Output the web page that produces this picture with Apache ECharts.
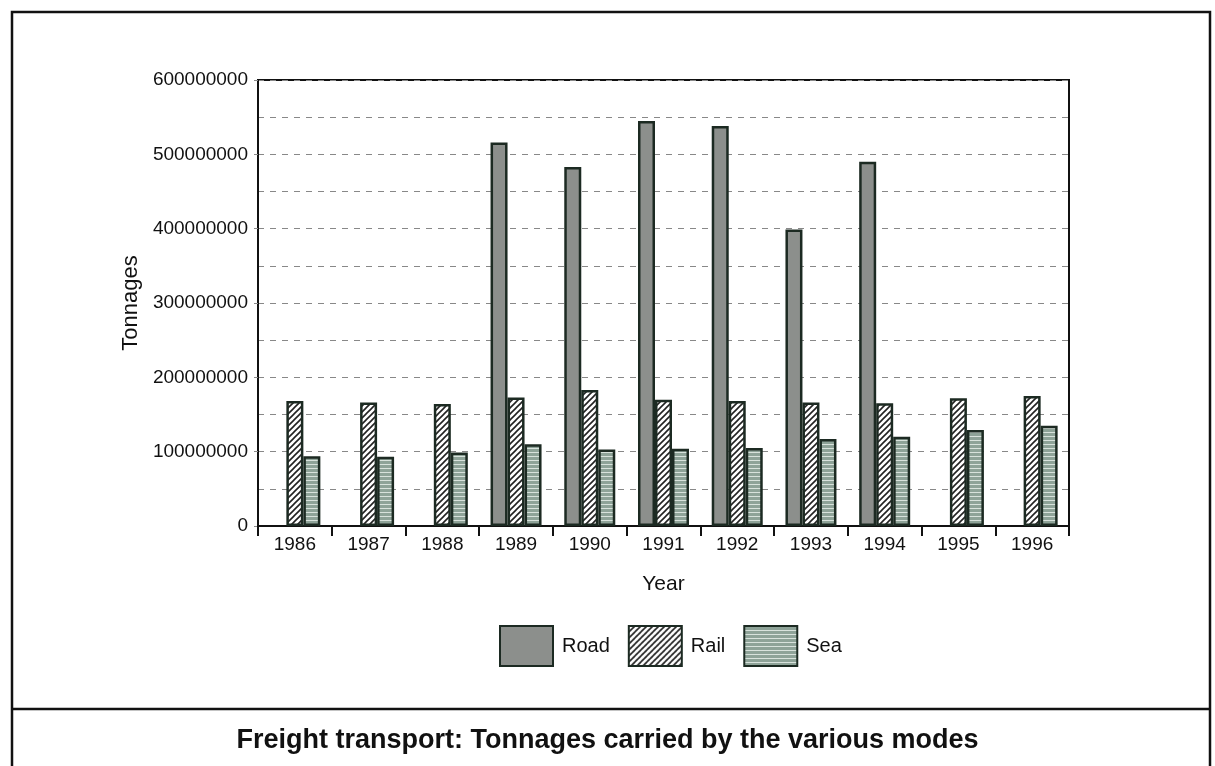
<!DOCTYPE html>
<html>
	<head>
		<meta charset="utf-8">
		<script src="https://cdn.jsdelivr.net/npm/echarts@6/dist/echarts.min.js"></script>
		<title>Freight transport</title>
		<style>
			body { margin: 0; background: #fff; }
		</style>
	</head>
	<body>
		<div id="main" style="width: 1215px;height:766px;"></div>
		<script type="text/javascript">
			// data
			var years = ['1986', '1987', '1988', '1989', '1990', '1991', '1992', '1993', '1994', '1995', '1996'];
			var road = [null, null, null, 516000000, 483000000, 545000000, 538000000, 399000000, 490000000, null, null];
			var rail = [168000000, 166000000, 164000000, 173000000, 183000000, 170000000, 168000000, 166000000, 165000000, 172000000, 175000000];
			var sea = [94000000, 93000000, 99000000, 110000000, 103000000, 104000000, 105000000, 117000000, 120000000, 129000000, 135000000];

			// fill patterns
			function hatch() {
				var c = document.createElement('canvas');
				c.width = 6; c.height = 6;
				var g = c.getContext('2d');
				g.fillStyle = '#fff';
				g.fillRect(0, 0, 6, 6);
				g.strokeStyle = '#222';
				g.lineWidth = 1.6;
				g.beginPath();
				g.moveTo(-1, 7); g.lineTo(7, -1);
				g.moveTo(-4, 4); g.lineTo(4, -4);
				g.moveTo(2, 10); g.lineTo(10, 2);
				g.stroke();
				return c;
			}
			function stripes() {
				var c = document.createElement('canvas');
				c.width = 4; c.height = 4;
				var g = c.getContext('2d');
				g.fillStyle = '#8ea398';
				g.fillRect(0, 0, 4, 4);
				g.fillStyle = '#d8e2dc';
				g.fillRect(0, 0, 4, 1);
				return c;
			}

			var myChart = echarts.init(document.getElementById('main'));
			var font = 'Liberation Sans, Arial, sans-serif';
			var border = { borderColor: '#1c2a22', borderWidth: 2.5 };

			myChart.setOption({
				backgroundColor: '#fff',
				animation: false,
				textStyle: { fontFamily: font, color: '#111' },
				title: {
					text: 'Freight transport: Tonnages carried by the various modes',
					left: 'center',
					top: 722,
					textStyle: { fontFamily: font, fontSize: 27, fontWeight: 'bold', color: '#111' }
				},
				graphic: [
					{ type: 'rect', shape: { x: 12, y: 12, width: 1198, height: 800 }, style: { fill: 'none', stroke: '#111', lineWidth: 2.5 }, silent: true },
					{ type: 'line', shape: { x1: 12, y1: 709, x2: 1210, y2: 709 }, style: { stroke: '#111', lineWidth: 2.5 }, silent: true }
				],
				legend: {
					left: 494,
					top: 620,
					icon: 'rect',
					itemWidth: 53,
					itemHeight: 40,
					itemGap: 18,
					textStyle: { fontFamily: font, fontSize: 20, color: '#111', padding: [0, 0, 0, 4] },
					data: ['Road', 'Rail', 'Sea']
				},
				grid: {
					left: 258, right: 146, top: 80, bottom: 240,
					show: true, borderColor: '#111', borderWidth: 2
				},
				xAxis: {
					type: 'category',
					data: years,
					name: 'Year',
					nameLocation: 'middle',
					nameGap: 48,
					nameTextStyle: { fontFamily: font, fontSize: 21, color: '#111' },
					axisLine: { lineStyle: { color: '#111', width: 2 } },
					axisTick: { show: true, length: 10, lineStyle: { color: '#111', width: 2 } },
					axisLabel: { fontSize: 19, color: '#111', margin: 9 }
				},
				yAxis: {
					type: 'value',
					min: 0,
					max: 600000000,
					interval: 100000000,
					name: 'Tonnages',
					nameLocation: 'middle',
					nameGap: 110,
					nameTextStyle: { fontFamily: font, fontSize: 22, color: '#111' },
					axisLine: { show: true, lineStyle: { color: '#111', width: 2 } },
					axisTick: { show: true, length: 4, lineStyle: { color: '#888' } },
					axisLabel: {
						fontSize: 19, color: '#111', margin: 10,
						formatter: function (v) { return String(v); }
					},
					splitLine: { lineStyle: { color: '#888', type: [6, 6], width: 1 } },
					minorTick: { show: false, splitNumber: 2 },
					minorSplitLine: { show: true, lineStyle: { color: '#888', type: [6, 6], width: 1 } }
				},
				series: [
					{
						name: 'Road', type: 'bar', data: road,
						barWidth: 17, barGap: '0%',
						itemStyle: Object.assign({ color: '#8c8f8c' }, border)
					},
					{
						name: 'Rail', type: 'bar', data: rail,
						barWidth: 17, barGap: '0%',
						itemStyle: Object.assign({ color: { image: hatch(), repeat: 'repeat' } }, border)
					},
					{
						name: 'Sea', type: 'bar', data: sea,
						barWidth: 17, barGap: '0%',
						itemStyle: Object.assign({ color: { image: stripes(), repeat: 'repeat' } }, border)
					}
				]
			});
		</script>
	</body>
</html>
